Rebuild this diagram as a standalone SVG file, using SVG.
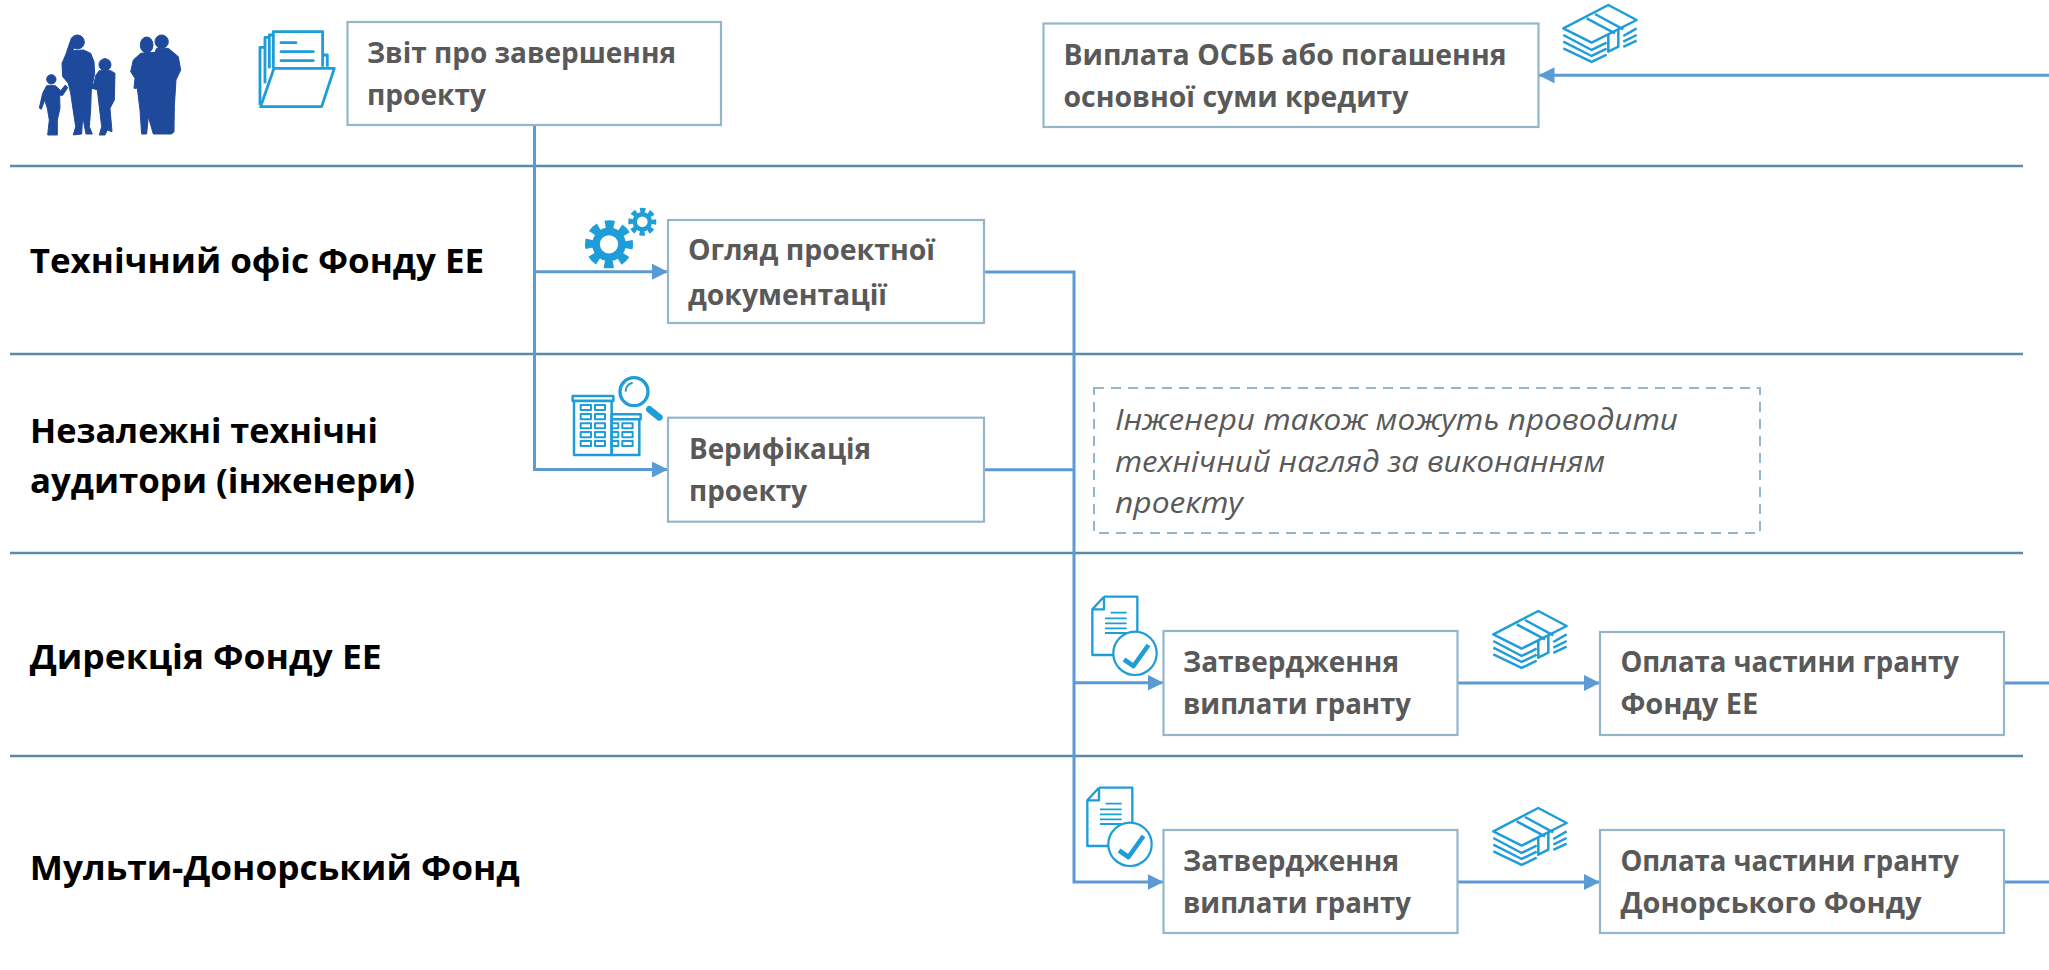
<svg xmlns="http://www.w3.org/2000/svg" xmlns:xlink="http://www.w3.org/1999/xlink" width="2049" height="970" viewBox="0 0 2049 970">
<style>
.t{font-family:"Open Sans","Liberation Sans",sans-serif;font-size:27.8px;font-weight:700;fill:#595959}
.l{font-family:"Open Sans","Liberation Sans",sans-serif;font-size:34.8px;font-weight:700;fill:#000}
.i{font-family:"Open Sans","Liberation Sans",sans-serif;font-size:30px;font-style:italic;fill:#595959}
.b{fill:#fff;stroke:#93b6cb;stroke-width:2.2}
.h{fill:none;stroke:#5b8ba6;stroke-width:2.6}
.c{fill:none;stroke:#5b9bd5;stroke-width:3}
.a{marker-end:url(#arr)}
.ic{fill:none;stroke:#1e9dd8;stroke-linejoin:round}
</style>
<defs>
<marker id="arr" markerUnits="userSpaceOnUse" markerWidth="16" markerHeight="16" refX="16" refY="8" orient="auto"><path d="M0 0L16 8L0 16Z" fill="#5b9bd5"/></marker>
<g id="money" class="ic" stroke-width="7.5" transform="scale(.3333)">
<path d="M250 85L385 15L470 60L335 128Z"/>
<path d="M320 55L405 100M345 42L430 88"/>
<path d="M250 105L335 150L380 128M250 125L335 168L380 146M250 145L335 186L380 164M430 108L470 85M430 125L470 105M430 141L470 122"/>
<path d="M385 105V155L415 140V88"/>
</g>
<g id="doc">
<path class="ic" stroke-width="7" d="M72 20H172V125M72 20L37 58V195H100M72 20V58H37" transform="scale(.3333)"/>
<path class="ic" stroke-width="5.5" d="M92 68H140M75 85H140M75 100H140M75 115H140M75 129H140" transform="scale(.3333)"/>
<circle cx="55" cy="63.3" r="21.7" fill="#fff" stroke="#1e9dd8" stroke-width="2.2"/>
<path class="ic" stroke-width="4.6" d="M44 69.5L53.5 76L68.5 55"/>
</g>
<g id="gear">
<circle r="54" fill="none" stroke="#1e9dd8" stroke-width="32"/>
<circle r="82" fill="none" stroke="#1e9dd8" stroke-width="36" stroke-dasharray="37 27.4" stroke-dashoffset="18.5"/>
</g>
</defs>
<rect width="2049" height="970" fill="#fff"/>
<g id="lanes">
<path class="h" d="M10 166H2023M10 354H2023M10 553H2023M10 756H2023"/>
</g>
<g id="connectors">
<path class="c" d="M534.5 125V469.5H668" style="marker-end:url(#arr)"/>
<path class="c a" d="M534.5 271.7H668"/>
<path class="c" d="M984 272H1074V882H1163.5" style="marker-end:url(#arr)"/>
<path class="c" d="M984 469.7H1074"/>
<path class="c a" d="M1074 682.7H1163.5"/>
<path class="c a" d="M1457.6 683H1600"/>
<path class="c a" d="M1457.6 882H1600"/>
<path class="c" d="M2004 683H2049M2004 882H2049"/>
<path class="c a" d="M2049 75.3H1538.5"/>
</g>
<g id="family" transform="translate(20 20) scale(.3333)" fill="#1f4a9c" stroke="#1f4a9c" stroke-width="3" stroke-linejoin="round">
<circle cx="94" cy="178" r="14"/>
<path d="M80 197L106 197L122 212L136 195L143 203L128 226L119 226L120 265L112 300L112 345L83 345L88 300L82 265L74 240L64 268L58 264L68 220Z"/>
<circle cx="172" cy="66" r="21"/>
<path d="M150 66L160 60V85L160 92L190 90L212 100L222 125L224 160L218 190L224 205L214 207L212 270L208 320L217 342L198 342L188 290L185 342L160 345L167 320L152 220L145 190L128 170L126 130L138 102Z"/>
<circle cx="255" cy="134" r="18"/>
<path d="M238 152L272 152L285 160L283 240L270 265L276 335L262 330L255 345L238 345L245 320L232 210L218 205L228 165Z"/>
<ellipse cx="380" cy="75" rx="19" ry="24"/>
<circle cx="425" cy="65" r="20"/>
<path d="M362 100L405 97L410 85L445 85L475 110L482 150L468 180L463 260L462 335L455 342L400 342L385 290L380 342L365 342L360 270L352 205L342 205L345 175L332 155L340 120Z"/>
</g>
<g id="icon-folder" class="ic" transform="translate(20 20) scale(.3333)" stroke-width="8.5">
<path d="M760 145V35H908V140M908 105H922V140M748 145V45H757M735 190V52H747M720 255V82H733"/>
<path d="M762 145H943L905 260H722Z"/>
<path stroke-linecap="round" d="M783 68H828M783 95H880M783 122H880"/>
</g>
<g id="icon-gears">
<use xlink:href="#gear" href="#gear" transform="translate(609 244.3) scale(.24)"/>
<use xlink:href="#gear" href="#gear" transform="translate(642.3 221.7) scale(.14)"/>
</g>
<g id="icon-building" class="ic" transform="translate(560 370) scale(.3333)" stroke-width="7.5">
<path d="M42 92H155V255H42ZM38 78H160V93H38Z"/>
<path d="M155 148H238V255H155ZM155 133H242V148H155Z"/>
<path stroke-width="6" d="M62 105H93V120H62ZM105 105H135V120H105ZM62 132H93V148H62ZM105 132H135V148H105ZM62 160H93V175H62ZM105 160H135V175H105ZM62 186H93V202H62ZM105 186H135V202H105ZM62 213H93V228H62ZM105 213H135V228H105ZM155 160H175V175H155ZM187 160H218V175H187ZM155 186H175V202H155ZM187 186H218V202H187ZM155 213H175V228H155ZM187 213H218V228H187Z"/>
<circle cx="222" cy="65" r="42" stroke-width="10" fill="#fff"/>
<path stroke-width="6" d="M197 65A26 26 0 0 1 218 38"/>
<path stroke-width="20" stroke-linecap="round" d="M268 118L298 142"/>
</g>
<g id="n1"><rect class="b" x="347.5" y="22" width="373.5" height="103"/><text class="t" x="367" y="63" textLength="309" lengthAdjust="spacingAndGlyphs">Звіт про завершення</text><text class="t" x="367" y="105" textLength="119" lengthAdjust="spacingAndGlyphs">проекту</text></g>
<g id="n2"><rect class="b" x="1043.5" y="23.5" width="495" height="103.5"/><text class="t" x="1063.5" y="65" textLength="443" lengthAdjust="spacingAndGlyphs">Виплата ОСББ або погашення</text><text class="t" x="1063.5" y="107" textLength="345" lengthAdjust="spacingAndGlyphs">основної суми кредиту</text></g>
<use xlink:href="#money" href="#money" transform="translate(1480 0)"/>
<g id="n3"><rect class="b" x="668" y="220" width="316" height="103"/><text class="t" x="688" y="260" textLength="247" lengthAdjust="spacingAndGlyphs">Огляд проектної</text><text class="t" x="688" y="305" textLength="199" lengthAdjust="spacingAndGlyphs">документації</text></g>
<g id="n4"><rect class="b" x="668" y="417.7" width="316" height="104"/><text class="t" x="689" y="459" textLength="182" lengthAdjust="spacingAndGlyphs">Верифікація</text><text class="t" x="689" y="501" textLength="118" lengthAdjust="spacingAndGlyphs">проекту</text></g>
<g id="note"><rect x="1094" y="388" width="666" height="145" fill="#fff" stroke="#93b6cb" stroke-width="2" stroke-dasharray="10 7"/><text class="i" x="1115" y="430" textLength="563" lengthAdjust="spacingAndGlyphs">Інженери також можуть проводити</text><text class="i" x="1115" y="472" textLength="490" lengthAdjust="spacingAndGlyphs">технічний нагляд за виконанням</text><text class="i" x="1115" y="513" textLength="128" lengthAdjust="spacingAndGlyphs">проекту</text></g>
<use id="icon-doc1" xlink:href="#doc" href="#doc" transform="translate(1080 590)"/>
<use id="icon-doc2" xlink:href="#doc" href="#doc" transform="translate(1075 781)"/>
<g id="n5"><rect class="b" x="1163.5" y="631" width="294" height="104"/><text class="t" x="1183" y="672" textLength="216" lengthAdjust="spacingAndGlyphs">Затвердження</text><text class="t" x="1183" y="714" textLength="228" lengthAdjust="spacingAndGlyphs">виплати гранту</text></g>
<use xlink:href="#money" href="#money" transform="translate(1410 606)"/>
<g id="n6"><rect class="b" x="1600" y="632" width="404" height="103"/><text class="t" x="1620.4" y="672" textLength="338.5" lengthAdjust="spacingAndGlyphs">Оплата частини гранту</text><text class="t" x="1620.4" y="714" textLength="138" lengthAdjust="spacingAndGlyphs">Фонду ЕЕ</text></g>
<g id="n7"><rect class="b" x="1163.5" y="830" width="294" height="103"/><text class="t" x="1183" y="871" textLength="216" lengthAdjust="spacingAndGlyphs">Затвердження</text><text class="t" x="1183" y="913" textLength="228" lengthAdjust="spacingAndGlyphs">виплати гранту</text></g>
<use xlink:href="#money" href="#money" transform="translate(1410 803)"/>
<g id="n8"><rect class="b" x="1600" y="830" width="404" height="103"/><text class="t" x="1620.4" y="871" textLength="338.5" lengthAdjust="spacingAndGlyphs">Оплата частини гранту</text><text class="t" x="1620.4" y="913" textLength="301" lengthAdjust="spacingAndGlyphs">Донорського Фонду</text></g>
<g id="labels">
<text class="l" x="29.7" y="273" textLength="454.5" lengthAdjust="spacingAndGlyphs">Технічний офіс Фонду ЕЕ</text>
<text class="l" x="30" y="442.5" textLength="348" lengthAdjust="spacingAndGlyphs">Незалежні технічні</text>
<text class="l" x="30" y="493" textLength="385" lengthAdjust="spacingAndGlyphs">аудитори (інженери)</text>
<text class="l" x="29.7" y="669" textLength="352" lengthAdjust="spacingAndGlyphs">Дирекція Фонду ЕЕ</text>
<text class="l" x="29.7" y="880" textLength="490" lengthAdjust="spacingAndGlyphs">Мульти-Донорський Фонд</text>
</g>
</svg>
